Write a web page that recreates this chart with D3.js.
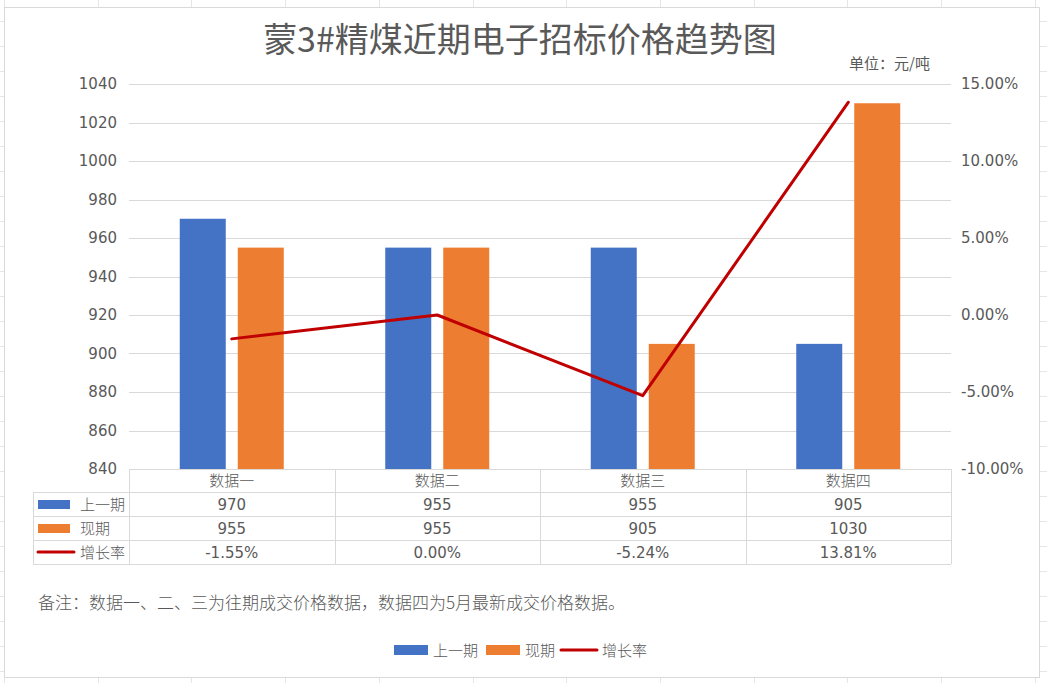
<!DOCTYPE html>
<html>
<head>
<meta charset="utf-8">
<script src="https://cdn.jsdelivr.net/npm/d3@7"></script>
<style>
  body { margin: 0; background: #fff; }
  text { font-family: "DejaVu Sans", "Noto Sans CJK SC", sans-serif; fill: #595959; }
</style>
</head>
<body>
<div class="chart"></div>
<script>
// chart values
const categories = ["数据一", "数据二", "数据三", "数据四"];
const prevValues = [970, 955, 955, 905];
const currValues = [955, 955, 905, 1030];
const growth = [-1.55, 0.00, -5.24, 13.81];
const leftTicks = [840, 860, 880, 900, 920, 940, 960, 980, 1000, 1020, 1040];
const rightTicks = [-10, -5, 0, 5, 10, 15];
const seriesNames = ["上一期", "现期", "增长率"];

const WIDTH = 1047;
const HEIGHT = 683;
const PLOT = { left: 129, right: 951, top: 84, bottom: 469 };
const BLUE = "#4472C4", ORANGE = "#ED7D31", RED = "#C00000";

const svg = d3.select(".chart").append("svg")
  .attr("width", WIDTH).attr("height", HEIGHT);

// faint spreadsheet cells behind the chart
const bg = svg.append("g").attr("stroke", "#e6e6e6").attr("stroke-width", 1);
d3.range(4, WIDTH, 93.7).forEach(x => bg.append("line")
  .attr("x1", Math.round(x) + 0.5).attr("x2", Math.round(x) + 0.5).attr("y1", 0).attr("y2", HEIGHT));
d3.range(-4, HEIGHT, 25).forEach(y => bg.append("line")
  .attr("y1", y + 0.5).attr("y2", y + 0.5).attr("x1", 0).attr("x2", WIDTH));

// chart box
svg.append("rect")
  .attr("x", 4.5).attr("y", 7.5).attr("width", 1035).attr("height", 670)
  .attr("fill", "#fff").attr("stroke", "#d9d9d9");

// scales
const x = d3.scaleBand().domain(categories).range([PLOT.left, PLOT.right]);
const y = d3.scaleLinear().domain([840, 1040]).range([PLOT.bottom, PLOT.top]);
const y2 = d3.scaleLinear().domain([-10, 15]).range([PLOT.bottom, PLOT.top]);

// title
svg.append("text")
  .attr("x", 520).attr("y", 52)
  .attr("text-anchor", "middle")
  .style("font-family", "'Noto Sans CJK SC', sans-serif")
  .style("font-size", "34px")
  .text("蒙3#精煤近期电子招标价格趋势图");

svg.append("text")
  .attr("x", 930).attr("y", 69)
  .attr("text-anchor", "end")
  .style("font-family", "'Noto Sans CJK SC', sans-serif")
  .style("font-size", "15px")
  .text("单位：元/吨");

// left axis with gridlines
svg.append("g")
  .attr("transform", `translate(${PLOT.left},0)`)
  .call(d3.axisLeft(y).tickValues(leftTicks).tickSize(0).tickPadding(12).tickFormat(d3.format("d")))
  .call(g => g.select(".domain").remove())
  .call(g => g.selectAll(".tick text").style("font-size", "15px").attr("fill", "#595959"));

svg.append("g")
  .selectAll("line")
  .data(leftTicks.slice(1))
  .join("line")
  .attr("x1", PLOT.left).attr("x2", PLOT.right)
  .attr("y1", d => Math.round(y(d)) + 0.5).attr("y2", d => Math.round(y(d)) + 0.5)
  .attr("stroke", "#d9d9d9");

// right axis
svg.append("g")
  .attr("transform", `translate(${PLOT.right},0)`)
  .call(d3.axisRight(y2).tickValues(rightTicks).tickSize(0).tickPadding(10)
    .tickFormat(d => d.toFixed(2) + "%"))
  .call(g => g.select(".domain").remove())
  .call(g => g.selectAll(".tick text").style("font-size", "15px").attr("fill", "#595959"));

// bars
const barW = 46, gap = 12;
svg.append("g").selectAll("rect")
  .data(prevValues)
  .join("rect")
  .attr("x", (d, i) => x(categories[i]) + x.bandwidth() / 2 - gap / 2 - barW)
  .attr("y", d => y(d))
  .attr("width", barW)
  .attr("height", d => y(840) - y(d))
  .attr("fill", BLUE);

svg.append("g").selectAll("rect")
  .data(currValues)
  .join("rect")
  .attr("x", (d, i) => x(categories[i]) + x.bandwidth() / 2 + gap / 2)
  .attr("y", d => y(d))
  .attr("width", barW)
  .attr("height", d => y(840) - y(d))
  .attr("fill", ORANGE);

// growth line
const line = d3.line()
  .x((d, i) => x(categories[i]) + x.bandwidth() / 2)
  .y(d => y2(d));

svg.append("path")
  .datum(growth)
  .attr("d", line)
  .attr("fill", "none")
  .attr("stroke", RED)
  .attr("stroke-width", 3)
  .attr("stroke-linecap", "round")
  .attr("stroke-linejoin", "round");

// data table
const rowH = 24;
const tableTop = PLOT.bottom;
const labelLeft = 33;
const tbl = svg.append("g");
const gridColor = "#d9d9d9";

// horizontal lines
[0, 1, 2, 3, 4].forEach(r => {
  const yy = tableTop + r * rowH - (r === 0 ? 0 : 1) + 0.5;
  tbl.append("line")
    .attr("x1", r === 0 ? PLOT.left : labelLeft).attr("x2", PLOT.right)
    .attr("y1", yy).attr("y2", yy)
    .attr("stroke", gridColor);
});
// vertical lines
categories.concat([null]).forEach((c, i) => {
  const xx = Math.round(c ? x(c) : PLOT.right) + 0.5;
  tbl.append("line")
    .attr("x1", xx).attr("x2", xx)
    .attr("y1", tableTop).attr("y2", tableTop + 4 * rowH - 1)
    .attr("stroke", gridColor);
});
tbl.append("line")
  .attr("x1", labelLeft + 0.5).attr("x2", labelLeft + 0.5)
  .attr("y1", tableTop + rowH - 1).attr("y2", tableTop + 4 * rowH - 1)
  .attr("stroke", gridColor);

// header
tbl.selectAll(".hdr")
  .data(categories)
  .join("text")
  .attr("class", "hdr")
  .attr("x", d => x(d) + x.bandwidth() / 2)
  .attr("y", tableTop + 17)
  .attr("text-anchor", "middle")
  .style("font-family", "'Noto Sans CJK SC', sans-serif")
  .style("font-size", "15px")
  .style("font-weight", "300")
  .attr("fill", "#7f7f7f")
  .text(d => d);

const rows = [
  { name: seriesNames[0], vals: prevValues.map(String), key: "rect", color: BLUE },
  { name: seriesNames[1], vals: currValues.map(String), key: "rect", color: ORANGE },
  { name: seriesNames[2], vals: growth.map(d => d.toFixed(2) + "%"), key: "line", color: RED }
];

rows.forEach((row, r) => {
  const cy = tableTop + (r + 1) * rowH + 11;
  if (row.key === "rect") {
    tbl.append("rect")
      .attr("x", 38).attr("y", cy - 4).attr("width", 32).attr("height", 9)
      .attr("fill", row.color);
  } else {
    tbl.append("line")
      .attr("x1", 38).attr("x2", 74).attr("y1", cy).attr("y2", cy)
      .attr("stroke", row.color).attr("stroke-width", 3).attr("stroke-linecap", "round");
  }
  tbl.append("text")
    .attr("x", 80).attr("y", cy + 6)
    .style("font-family", "'Noto Sans CJK SC', sans-serif")
    .style("font-size", "15px")
    .style("font-weight", "300")
    .text(row.name);
  tbl.selectAll(null)
    .data(row.vals)
    .join("text")
    .attr("x", (d, i) => x(categories[i]) + x.bandwidth() / 2)
    .attr("y", cy + 6)
    .attr("text-anchor", "middle")
    .style("font-size", "15px")
    .text(d => d);
});

// note
svg.append("text")
  .attr("x", 38).attr("y", 609)
  .style("font-family", "'Noto Sans CJK SC', sans-serif")
  .style("font-size", "17px")
  .style("font-weight", "300")
  .text("备注：数据一、二、三为往期成交价格数据，数据四为5月最新成交价格数据。");

// legend
const legend = svg.append("g").attr("transform", "translate(0,650)");
legend.append("rect").attr("x", 394).attr("y", -5).attr("width", 34).attr("height", 10).attr("fill", BLUE);
legend.append("text").attr("x", 433).attr("y", 6).text(seriesNames[0]);
legend.append("rect").attr("x", 486).attr("y", -5).attr("width", 34).attr("height", 10).attr("fill", ORANGE);
legend.append("text").attr("x", 525).attr("y", 6).text(seriesNames[1]);
legend.append("line").attr("x1", 561).attr("x2", 597).attr("y1", 0).attr("y2", 0)
  .attr("stroke", RED).attr("stroke-width", 3).attr("stroke-linecap", "round");
legend.append("text").attr("x", 602).attr("y", 6).text(seriesNames[2]);
legend.selectAll("text")
  .style("font-family", "'Noto Sans CJK SC', sans-serif")
  .style("font-size", "15px")
  .style("font-weight", "300");
</script>
</body>
</html>
